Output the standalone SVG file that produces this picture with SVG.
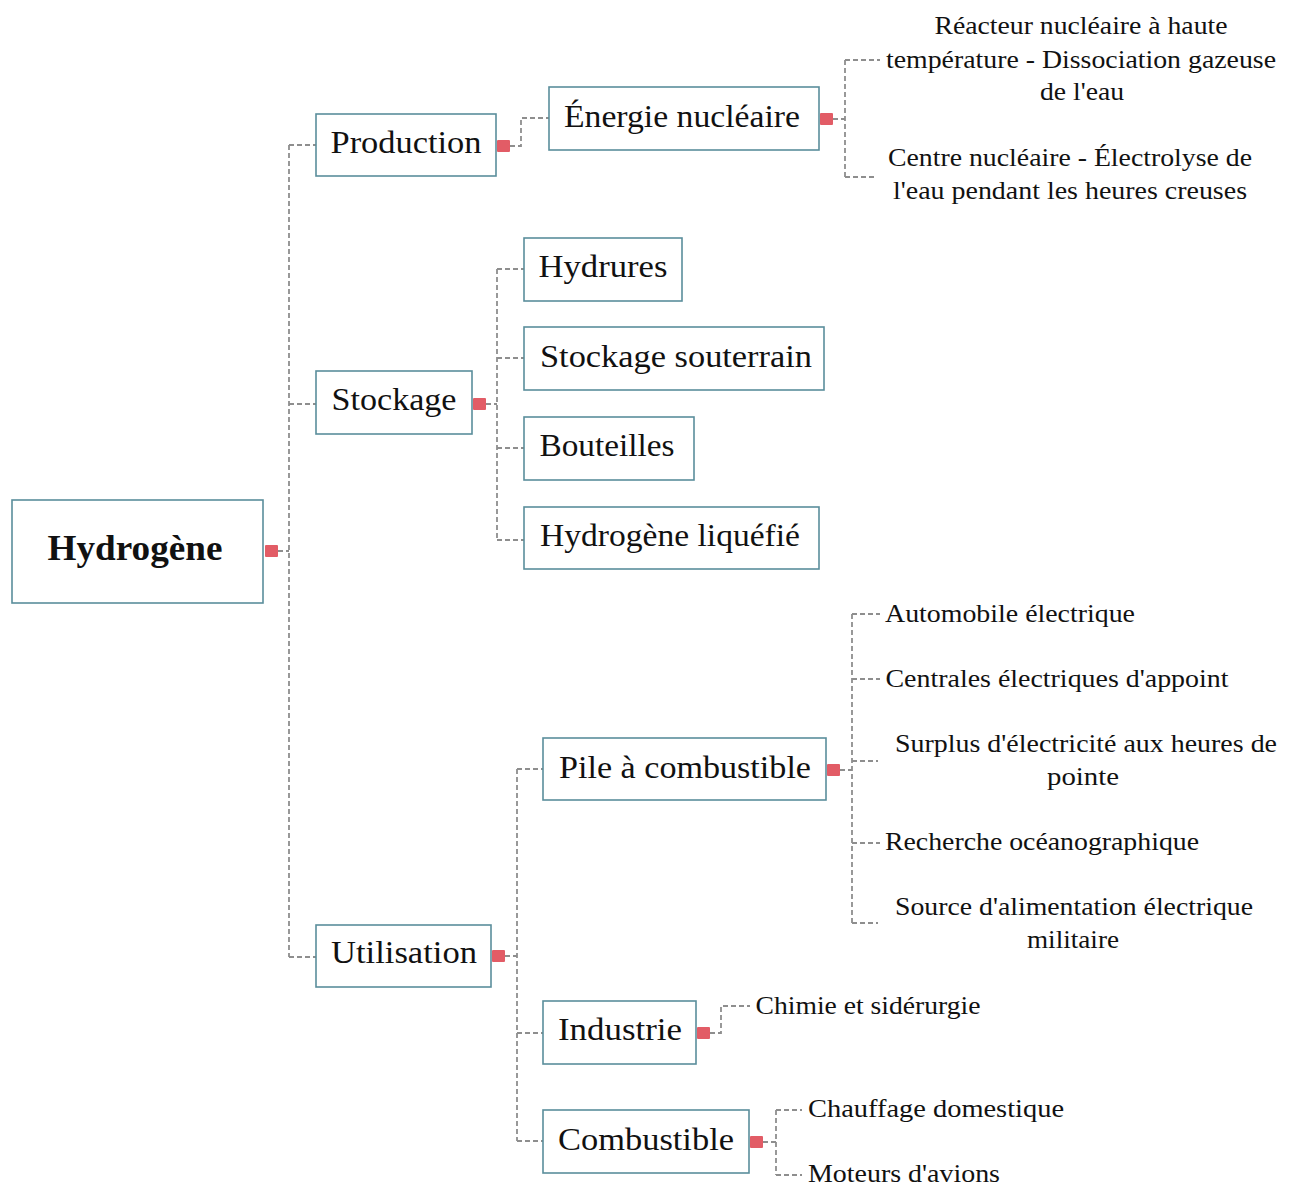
<svg xmlns="http://www.w3.org/2000/svg" width="1294" height="1187" viewBox="0 0 1294 1187">
<style>
.box{fill:#ffffff;stroke:#5a8e9c;stroke-width:1.6}
.t{font-family:"Liberation Serif","Times New Roman",serif;fill:#111;text-anchor:middle}
.bt{font-size:32px}
.lt{font-size:25px}
.root{font-size:36px;font-weight:bold}
.mk{fill:#e25c66}
.c{fill:none;stroke:#8e8e8e;stroke-width:1.8;stroke-dasharray:5 3}
</style>
<rect width="1294" height="1187" fill="#ffffff"/>
<g id="connectors">
<path class="c" d="M278 551 H289 M289 145 V957 M289 145 H316 M289 404 H316 M289 957 H316"/>
<path class="c" d="M510 146 H521 V118 H549"/>
<path class="c" d="M833 119 H845 M845 60 V177 M845 60 H880 M845 177 H876"/>
<path class="c" d="M486 404 H497 M497 269 V540 M497 269 H524 M497 358 H524 M497 448 H524 M497 540 H524"/>
<path class="c" d="M505 956 H517 M517 769 V1141 M517 769 H543 M517 1033 H543 M517 1141 H543"/>
<path class="c" d="M840 770 H852 M852 614 V923 M852 614 H880 M852 679 H880 M852 761 H878 M852 843 H880 M852 923 H878"/>
<path class="c" d="M710 1033 H721 V1006 H750"/>
<path class="c" d="M763 1142 H776 M776 1110 V1175 M776 1110 H802 M776 1175 H802"/>
</g>
<g id="n-hydrogene"><rect class="box" x="12" y="500" width="251" height="103"/><text class="t root" x="135" y="560" textLength="175" lengthAdjust="spacingAndGlyphs">Hydrogène</text><rect class="mk" x="265" y="545" width="13" height="12" rx="1"/></g>
<g id="n-production"><rect class="box" x="316" y="114" width="180" height="62"/><text class="t bt" x="406" y="153" textLength="151" lengthAdjust="spacingAndGlyphs">Production</text><rect class="mk" x="497" y="140" width="13" height="12" rx="1"/></g>
<g id="n-energie"><rect class="box" x="549" y="87" width="270" height="63"/><text class="t bt" x="682" y="127" textLength="236" lengthAdjust="spacingAndGlyphs">Énergie nucléaire</text><rect class="mk" x="820" y="113" width="13" height="12" rx="1"/></g>
<g id="n-reacteur"><text class="t lt" x="1081" y="34" textLength="293" lengthAdjust="spacingAndGlyphs">Réacteur nucléaire à haute</text><text class="t lt" x="1081" y="68" textLength="390" lengthAdjust="spacingAndGlyphs">température - Dissociation gazeuse</text><text class="t lt" x="1082" y="100" textLength="84" lengthAdjust="spacingAndGlyphs">de l'eau</text></g>
<g id="n-centre"><text class="t lt" x="1070" y="166" textLength="364" lengthAdjust="spacingAndGlyphs">Centre nucléaire - Électrolyse de</text><text class="t lt" x="1070" y="199" textLength="354" lengthAdjust="spacingAndGlyphs">l'eau pendant les heures creuses</text></g>
<g id="n-stockage"><rect class="box" x="316" y="371" width="156" height="63"/><text class="t bt" x="394" y="410" textLength="125" lengthAdjust="spacingAndGlyphs">Stockage</text><rect class="mk" x="473" y="398" width="13" height="12" rx="1"/></g>
<g id="n-hydrures"><rect class="box" x="524" y="238" width="158" height="63"/><text class="t bt" x="603" y="277" textLength="129" lengthAdjust="spacingAndGlyphs">Hydrures</text></g>
<g id="n-souterrain"><rect class="box" x="524" y="327" width="300" height="63"/><text class="t bt" x="676" y="367" textLength="272" lengthAdjust="spacingAndGlyphs">Stockage souterrain</text></g>
<g id="n-bouteilles"><rect class="box" x="524" y="417" width="170" height="63"/><text class="t bt" x="607" y="456" textLength="135" lengthAdjust="spacingAndGlyphs">Bouteilles</text></g>
<g id="n-liquefie"><rect class="box" x="524" y="507" width="295" height="62"/><text class="t bt" x="670" y="546" textLength="260" lengthAdjust="spacingAndGlyphs">Hydrogène liquéfié</text></g>
<g id="n-utilisation"><rect class="box" x="316" y="925" width="175" height="62"/><text class="t bt" x="404" y="963" textLength="146" lengthAdjust="spacingAndGlyphs">Utilisation</text><rect class="mk" x="492" y="950" width="13" height="12" rx="1"/></g>
<g id="n-pile"><rect class="box" x="543" y="738" width="283" height="62"/><text class="t bt" x="685" y="778" textLength="252" lengthAdjust="spacingAndGlyphs">Pile à combustible</text><rect class="mk" x="827" y="764" width="13" height="12" rx="1"/></g>
<g id="n-automobile"><text class="t lt" x="1010" y="622" textLength="250" lengthAdjust="spacingAndGlyphs">Automobile électrique</text></g>
<g id="n-centrales"><text class="t lt" x="1057" y="687" textLength="343" lengthAdjust="spacingAndGlyphs">Centrales électriques d'appoint</text></g>
<g id="n-surplus"><text class="t lt" x="1086" y="752" textLength="382" lengthAdjust="spacingAndGlyphs">Surplus d'électricité aux heures de</text><text class="t lt" x="1083" y="785" textLength="72" lengthAdjust="spacingAndGlyphs">pointe</text></g>
<g id="n-recherche"><text class="t lt" x="1042" y="850" textLength="314" lengthAdjust="spacingAndGlyphs">Recherche océanographique</text></g>
<g id="n-source"><text class="t lt" x="1074" y="915" textLength="358" lengthAdjust="spacingAndGlyphs">Source d'alimentation électrique</text><text class="t lt" x="1073" y="948" textLength="92" lengthAdjust="spacingAndGlyphs">militaire</text></g>
<g id="n-industrie"><rect class="box" x="543" y="1001" width="153" height="63"/><text class="t bt" x="620" y="1040" textLength="124" lengthAdjust="spacingAndGlyphs">Industrie</text><rect class="mk" x="697" y="1027" width="13" height="12" rx="1"/></g>
<g id="n-chimie"><text class="t lt" x="868" y="1014" textLength="225" lengthAdjust="spacingAndGlyphs">Chimie et sidérurgie</text></g>
<g id="n-combustible"><rect class="box" x="543" y="1110" width="206" height="63"/><text class="t bt" x="646" y="1150" textLength="176" lengthAdjust="spacingAndGlyphs">Combustible</text><rect class="mk" x="750" y="1136" width="13" height="12" rx="1"/></g>
<g id="n-chauffage"><text class="t lt" x="936" y="1117" textLength="256" lengthAdjust="spacingAndGlyphs">Chauffage domestique</text></g>
<g id="n-moteurs"><text class="t lt" x="904" y="1182" textLength="192" lengthAdjust="spacingAndGlyphs">Moteurs d'avions</text></g>
</svg>
